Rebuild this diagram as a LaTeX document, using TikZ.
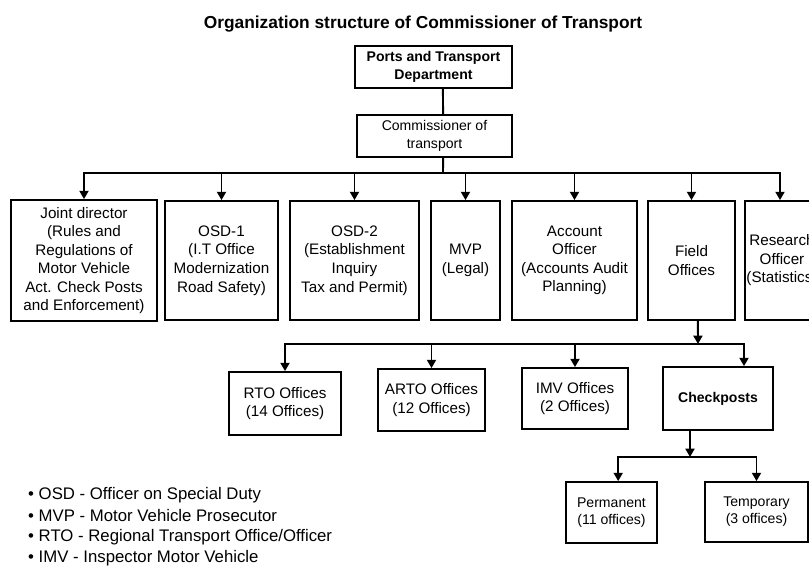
\documentclass[tikz,border=0pt]{standalone}
\usepackage{fontspec}
\setmainfont{Liberation Sans}
\usetikzlibrary{arrows.meta,shadows}
\tikzset{
  flowarrow/.style={-{Triangle[length=2.5mm,width=2.7mm]}, line width=1.6pt},
  busline/.style={line width=1.6pt, line cap=rect},
  orgbox/.style={draw, line width=1.5pt, fill=white, align=center, inner sep=1pt,
    font=\fontsize{13}{15.8}\selectfont,
    drop shadow={shadow xshift=0.7pt, shadow yshift=-0.9pt, fill=black!60, opacity=.8}},
  headbox/.style={orgbox, font=\fontsize{12}{15}\selectfont\bfseries},
  topbox/.style={orgbox, font=\fontsize{12}{15}\selectfont},
  leafbox/.style={orgbox, font=\fontsize{12}{14.5}\selectfont},
  notetext/.style={anchor=west, inner sep=0pt, font=\fontsize{14.3}{17}\selectfont}
}

\begin{document}
\begin{tikzpicture}[x=0.03cm, y=-0.03cm]
  \useasboundingbox (0,0) rectangle (809,587);
  \clip (0,0) rectangle (809,587);
  \node[font=\fontsize{14.8}{17}\selectfont\bfseries] (title) at (423,24) {Organization structure of Commissioner of Transport};

  % top of the tree
  \node[headbox, minimum width=4.71cm, minimum height=1.26cm] (ports) at (433.5,67) {Ports and Transport\\Department};
  \node[topbox, minimum width=4.65cm, minimum height=1.26cm] (comm) at (434.5,136) {Commissioner of\\transport};

  % second level
  \node[orgbox, minimum width=4.38cm, minimum height=3.63cm] (jd) at (84,260.5) {Joint director\\(Rules and\\Regulations of\\Motor Vehicle\\Act. Check Posts\\and Enforcement)};
  \node[orgbox, minimum width=3.39cm, minimum height=3.57cm] (osdone) at (221.5,260.5) {OSD-1\\(I.T Office\\Modernization\\Road Safety)};
  \node[orgbox, minimum width=3.87cm, minimum height=3.57cm] (osdtwo) at (354.5,260.5) {OSD-2\\(Establishment\\Inquiry\\Tax and Permit)};
  \node[orgbox, minimum width=2.07cm, minimum height=3.57cm] (mvp) at (465.5,260.5) {MVP\\(Legal)};
  \node[orgbox, minimum width=3.75cm, minimum height=3.57cm] (acc) at (574.5,260.5) {Account\\Officer\\(Accounts Audit\\Planning)};
  \node[orgbox, minimum width=2.61cm, minimum height=3.57cm] (field) at (691.5,260.5) {Field\\Offices};
  \node[orgbox, minimum width=2.22cm, minimum height=3.57cm] (res) at (782,260.5) {Research\\Officer\\(Statistics)};

  % third level
  \node[orgbox, minimum width=3.36cm, minimum height=1.89cm] (rto) at (285,403.5) {RTO Offices\\(14 Offices)};
  \node[orgbox, minimum width=3.21cm, minimum height=1.86cm] (arto) at (431.5,400) {ARTO Offices\\(12 Offices)};
  \node[orgbox, minimum width=3.18cm, minimum height=1.83cm] (imv) at (575,398.5) {IMV Offices\\(2 Offices)};
  \node[orgbox, minimum width=3.3cm, minimum height=1.89cm, font=\fontsize{12}{15}\selectfont\bfseries] (chk) at (718,398.5) {Checkposts};

  % checkposts
  \node[leafbox, minimum width=2.73cm, minimum height=1.83cm] (perm) at (611.5,512.5) {Permanent\\(11 offices)};
  \node[leafbox, minimum width=3.09cm, minimum height=1.8cm] (temp) at (756.5,512) {Temporary\\(3 offices)};

  % connectors
  \draw[busline] ([xshift=0.28cm]ports.south) -- ([xshift=0.26cm]comm.north);
  \coordinate (busone) at (443,173);
  \draw[busline] ([xshift=0.26cm]comm.south) -- (busone);
  \coordinate (restop) at ([xshift=-0.06cm]res.north);
  \draw[busline] (jd.north |- busone) -- (restop |- busone);
  \foreach \n in {jd,osdone,osdtwo,mvp,acc,field}
    \draw[flowarrow] (\n.north |- busone) -- (\n.north);
  \draw[flowarrow] (restop |- busone) -- (restop);

  \coordinate (bustwo) at (698,344);
  \coordinate (chkin) at ([xshift=0.78cm]chk.north);
  \draw[flowarrow] ([xshift=0.19cm]field.south) -- (bustwo);
  \draw[busline] (rto.north |- bustwo) -- (chkin |- bustwo);
  \foreach \n in {rto,arto,imv}
    \draw[flowarrow] (\n.north |- bustwo) -- (\n.north);
  \draw[flowarrow] (chkin |- bustwo) -- (chkin);

  \coordinate (busthree) at (690,457);
  \coordinate (permin) at ([xshift=0.2cm]perm.north);
  \draw[flowarrow] ([xshift=-0.84cm]chk.south) -- (busthree);
  \draw[busline] (permin |- busthree) -- (temp.north |- busthree);
  \draw[flowarrow] (permin |- busthree) -- (permin);
  \draw[flowarrow] (temp.north |- busthree) -- (temp.north);

  % abbreviations
  \node[notetext] (osd) at (28,495) {\textbullet\ OSD - Officer on Special Duty};
  \node[notetext] (mvpnote) at (28,516) {\textbullet\ MVP - Motor Vehicle Prosecutor};
  \node[notetext] (rtonote) at (28,537) {\textbullet\ RTO - Regional Transport Office/Officer};
  \node[notetext] (imvnote) at (28,558) {\textbullet\ IMV - Inspector Motor Vehicle};
\end{tikzpicture}
\end{document}
